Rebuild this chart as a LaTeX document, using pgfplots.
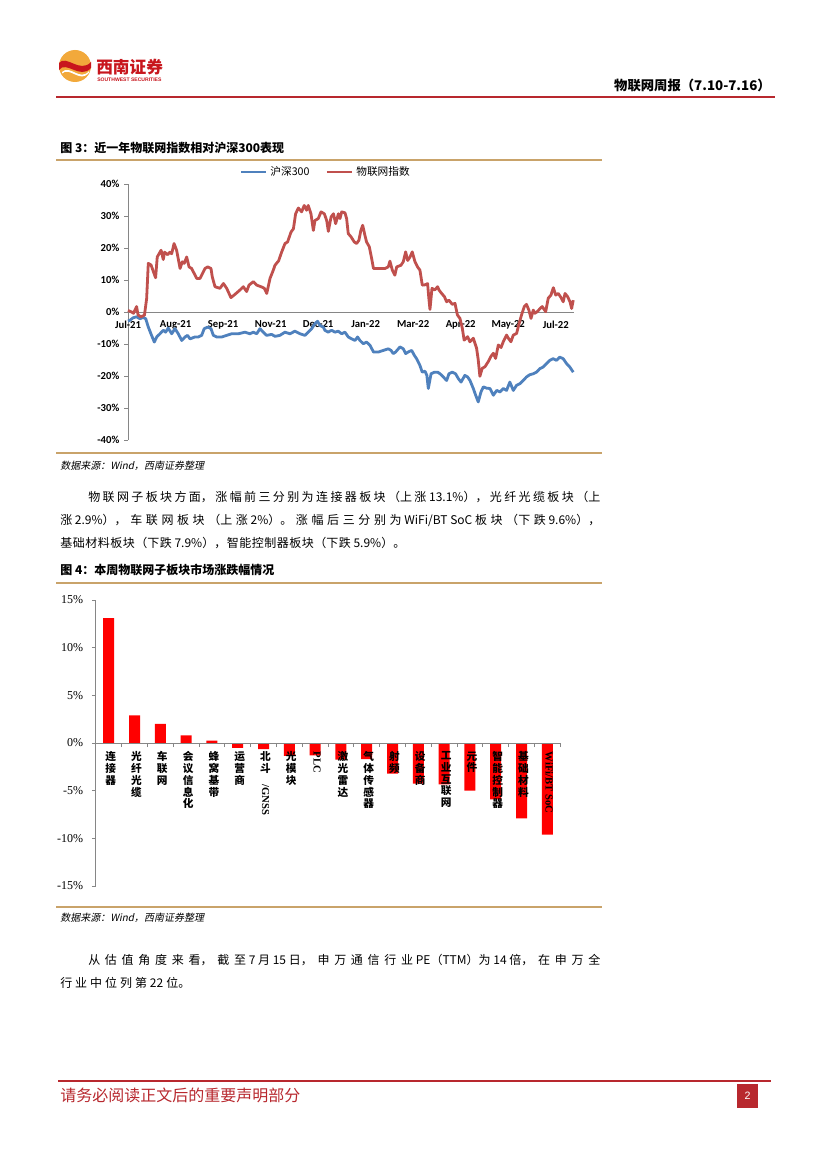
\documentclass[border=0pt]{standalone}
\usepackage{fontspec}
\usepackage{graphicx}
\usepackage{pgfplots}
\pgfplotsset{compat=1.18}
\setmainfont{Liberation Sans}
\newfontfamily\cjk{Noto Sans CJK SC}
\newfontfamily\cjkit[FakeSlant=0.2]{Noto Sans CJK SC}
\newfontfamily\carlito{Carlito}
\newfontfamily\tnr{Liberation Serif}
\XeTeXlinebreaklocale "zh"
\XeTeXlinebreakskip=0pt plus 1fil
\newdimen\px \px=0.75pt
\definecolor{hsblue}{HTML}{4F81BD}
\definecolor{wlred}{HTML}{C0504D}
\definecolor{axgray}{HTML}{868686}
\definecolor{goldline}{HTML}{C9A36A}
\definecolor{hdred}{HTML}{B8282E}
\definecolor{logogold}{HTML}{F2A93B}
\definecolor{logored}{HTML}{C8161D}
\definecolor{barred}{HTML}{FF0000}
\newcommand\bodyfont{\cjk\fontsize{9}{11}\selectfont}
\newcommand\jline[2]{\parbox{#1\px}{\parindent=0pt\parfillskip=0pt\bodyfont #2}}
\begin{document}
\begin{tikzpicture}
\begin{scope}[x=0.75pt,y=-0.75pt]
\path[use as bounding box, fill=white] (0,0) rectangle (827,1170);
% logo
\fill[logogold] (75,66) circle (16);
\fill[logored] (59,63) .. controls (66,54) and (80,74) .. (91,62) -- (91,68) .. controls (80,80) and (66,60) .. (59,70) -- cycle;
\fill[white] (62,72) .. controls (70,64) and (80,82) .. (89,71) -- (89,72.5) .. controls (80,84) and (70,66) .. (62,73.5) -- cycle;
\node[anchor=west, inner sep=0, text=logored] at (96,67) {\cjk\bfseries\fontsize{12.5}{14}\selectfont 西南证券};
\node[anchor=west, inner sep=0, text=logored] at (97,80) {\bfseries\fontsize{3.8}{4}\selectfont SOUTHWEST SECURITIES};
\node[anchor=east, inner sep=0] at (771,85) {\cjk\bfseries\fontsize{10}{12}\selectfont 物联网周报（7.10-7.16）};
\draw[hdred, line width=1.5pt] (56,97) -- (775,97);
% figure 3 title
\node[anchor=west, inner sep=0] at (60,148) {\cjk\bfseries\fontsize{9}{11}\selectfont 图 3：近一年物联网指数相对沪深300表现};
\draw[goldline, line width=1pt] (56,160) -- (602,160);
\draw[goldline, line width=1pt] (56,453) -- (602,453);
\node[anchor=west, inner sep=0] at (60,466) {\cjkit\fontsize{7.5}{9}\selectfont 数据来源：Wind，西南证券整理};
% paragraph 1
\node[anchor=west, inner sep=0] at (88,497) {\jline{512}{物联网子板块方面，涨幅前三分别为连接器板块（上涨 \mbox{13.1\%}），光纤光缆板块（上}};
\node[anchor=west, inner sep=0] at (60,520) {\jline{540}{涨 \mbox{2.9\%}），车联网板块（上涨 \mbox{2\%}）。涨幅后三分别为 \mbox{WiFi/BT SoC} 板块（下跌 \mbox{9.6\%}），}};
\node[anchor=west, inner sep=0] at (60,543) {\jline{345}{基础材料板块（下跌 \mbox{7.9\%}），智能控制器板块（下跌 \mbox{5.9\%}）。}};
% figure 4 title
\node[anchor=west, inner sep=0] at (60,570) {\cjk\bfseries\fontsize{9}{11}\selectfont 图 4：本周物联网子板块市场涨跌幅情况};
\draw[goldline, line width=1pt] (56,583) -- (602,583);
\draw[goldline, line width=1pt] (56,907) -- (602,907);
\node[anchor=west, inner sep=0] at (60,918) {\cjkit\fontsize{7.5}{9}\selectfont 数据来源：Wind，西南证券整理};
% paragraph 2
\node[anchor=west, inner sep=0] at (88,960) {\jline{512}{从估值角度来看，截至 7 月 15 日，申万通信行业 \mbox{PE（TTM）}为 14 倍，在申万全}};
\node[anchor=west, inner sep=0] at (60,983) {\jline{130}{行业中位列第22位。}};
% footer
\draw[hdred, line width=1pt] (58,1081) -- (771,1081);
\node[anchor=west, inner sep=0, text=hdred] at (60,1095) {\cjk\fontsize{12}{14}\selectfont 请务必阅读正文后的重要声明部分};
\fill[hdred] (737,1084) rectangle (758,1108);
\node[text=white, inner sep=0] at (747.5,1096) {\fontsize{8}{9}\selectfont 2};
\end{scope}

% ---------------- chart 1 ----------------
\begin{axis}[
  at={(96pt,-330pt)}, anchor=south west, scale only axis,
  width=334.5pt, height=192pt,
  xmin=0, xmax=244, ymin=-40, ymax=40,
  axis x line=middle, axis y line=left,
  axis line style={axgray, line width=0.6pt, -},
  xtick={0,26,...,234},
  xticklabels={Jul-21,Aug-21,Sep-21,Nov-21,Dec-21,Jan-22,Mar-22,Apr-22,May-22,Jul-22},
  x tick style={draw=none},
  ytick={-40,-30,...,40},
  yticklabels={-40\%,-30\%,-20\%,-10\%,0\%,10\%,20\%,30\%,40\%},
  y tick style={axgray, line width=0.6pt},
  tick align=outside, major tick length=3pt, ytick pos=left,
  ticklabel style={font=\carlito\bfseries\fontsize{8}{9}\selectfont, text=black},
  hide obscured x ticks=false, hide obscured y ticks=false,
  legend style={at={(0.444,1.047)}, anchor=center, draw=none, fill=none,
    legend columns=2, font=\cjk\fontsize{8}{9}\selectfont,
    /tikz/every even column/.append style={column sep=10pt}},
  legend image code/.code={\draw[#1] (0pt,0pt) -- (19pt,0pt);},
  clip=false,
]
\addplot[hsblue, line width=2.1pt, line join=round] coordinates {
(0,-2.8)(1,-2.6)(2.8,-1.8)(4.7,-1.5)(6.5,-2.1)(8.3,-1.7)(9.7,-2.1)(11.1,-4.7)(12.9,-7.3)(14.4,-9.4)
(15.7,-7.8)(17.5,-6.8)(19.3,-5.7)(20.6,-6.3)(22,-5.0)(23.9,-6.8)(25.7,-5.2)(27.5,-6.8)(29.4,-8.9)(31.2,-7.8)
(32.6,-7.3)(33.9,-8.4)(36.6,-7.8)(38.5,-7.8)(40.3,-7.3)(41.7,-5.2)(43.6,-4.7)(45.4,-5.2)(46.7,-7.3)(48.5,-7.8)
(51.3,-7.8)(54,-7.3)(56.7,-6.8)(60.4,-6.8)(64,-6.3)(66.7,-6.8)(68.6,-6.3)(70.4,-6.8)(72.2,-5.2)(74,-6.3)
(75.8,-7.3)(78.6,-7.0)(80.4,-7.6)(83.1,-7.3)(85.9,-6.3)(88.6,-6.8)(91.3,-6.0)(94.1,-6.8)(96.8,-7.3)(98.6,-6.3)
(100.5,-5.2)(102.3,-3.6)(103.7,-2.9)(105,-4.2)(106.8,-4.7)(107.7,-5.7)(109.5,-6.3)(111.4,-5.7)(113.2,-6.3)(115,-6.0)
(116.9,-6.8)(118.7,-6.3)(120.5,-7.8)(122.4,-8.4)(124.2,-8.9)(125.6,-7.8)(126.9,-8.9)(128.7,-9.9)(130.5,-9.4)(132.4,-10.4)
(134.3,-12.5)(137,-12.5)(139.7,-12.0)(142.4,-11.5)(143.9,-12.0)(145.1,-13.0)(146.4,-12.5)(148.8,-10.9)(150.6,-11.5)(151.9,-13.0)
(153.3,-12.5)(155.2,-12.0)(156.6,-13.5)(157.9,-14.6)(159.7,-16.7)(161,-18.8)(162.5,-18.5)(163.5,-19.8)(164.3,-23.9)(165.8,-19.3)
(167.6,-18.8)(169.4,-18.8)(170.7,-19.3)(172.5,-20.3)(174.3,-21.4)(175.6,-19.3)(177.4,-18.8)(179.2,-19.3)(180.7,-20.8)(182.2,-21.9)
(184.3,-19.8)(185.8,-20.3)(187.1,-21.4)(188.9,-23.9)(190.2,-26.0)(191.6,-28.1)(193.1,-25.0)(194.4,-23.4)(196.2,-23.8)(198,-23.9)
(199.9,-26.0)(201.7,-24.5)(203.5,-25.0)(205.3,-23.9)(207.1,-24.5)(208.9,-21.9)(210.8,-24.5)(212.6,-22.9)(214.4,-22.4)(216.2,-21.4)
(218,-20.3)(219.8,-19.6)(221.7,-19.3)(223.5,-18.8)(225.3,-17.7)(227.1,-17.2)(229,-16.1)(230.8,-15.1)(232.6,-14.6)(234.4,-15.1)
(236.2,-14.1)(238.1,-14.6)(239.9,-16.1)(241.7,-17.2)(243.6,-18.8)
};
\addlegendentry{沪深300}
\addplot[wlred, line width=2.1pt, line join=round] coordinates {
(0,0.5)(2,0.0)(3,-0.4)(4.7,1.7)(5.5,-0.9)(7,-1.5)(9,-1.0)(10.2,4.2)(11.1,15.2)(12.6,14.7)
(13.9,12.6)(15.1,10.7)(16,17.2)(18.1,19.3)(19.3,16.4)(20,18.7)(21.7,17.9)(22.9,18.7)(23.9,18.2)(25.2,21.4)
(26.6,19.3)(28.5,13.6)(29.7,15.7)(30.8,15.2)(32.1,17.2)(33.4,14.1)(34.8,13.6)(37.6,10.5)(39.4,10.5)(42.1,13.6)
(43.6,14.1)(45.4,13.6)(46.1,11.0)(47.6,7.9)(50.3,7.4)(52.2,8.9)(54,7.4)(56.3,4.5)(58.5,5.5)(61.3,6.9)
(63.1,7.9)(64.9,6.4)(66.2,8.4)(68.6,9.5)(70.4,8.4)(72.8,7.9)(74.6,7.4)(75.9,5.8)(77.7,10.5)(79.5,13.1)
(80.4,14.6)(82.4,16.0)(84.1,18.8)(85.9,21.4)(87.3,21.9)(89.2,25.0)(90.5,26.0)(91.7,30.7)(93.2,32.5)(95,31.3)
(96.4,33.3)(97.7,31.8)(98.6,33.3)(100.1,30.7)(101.4,25.5)(102.3,28.6)(104.1,29.2)(105.6,31.3)(107.4,30.7)(108.7,28.6)
(109.6,25.2)(111.1,29.7)(112.4,30.7)(113.6,27.6)(115.1,30.7)(116,29.2)(116.9,31.3)(118.7,31.0)(119.6,29.2)(120.5,24.5)
(122,23.5)(123.8,21.9)(125.1,21.4)(126.3,22.4)(127.4,25.5)(128.4,27.1)(129.6,24.0)(130.5,21.9)(132,20.4)(133.3,16.7)
(134.3,13.6)(137,13.6)(140.6,13.6)(142.4,14.1)(143.3,15.9)(144.6,13.1)(146,11.5)(147,14.1)(149.3,14.6)(150.6,15.7)
(151.9,18.8)(153,16.1)(154.3,17.2)(155.5,18.8)(157,15.7)(158.4,14.1)(159.7,13.1)(161,8.4)(162.5,8.5)(163.9,8.9)
(164.6,4.2)(165.2,0.8)(166.3,7.4)(167.8,6.9)(169.4,7.9)(170.1,6.9)(171.6,5.8)(173.1,4.8)(174.3,3.2)(175.6,3.7)
(177.4,2.4)(178.9,2.7)(180.2,-0.9)(181.6,-2.0)(182.9,-5.1)(183.9,-8.8)(185.8,-7.7)(187,-9.3)(188.9,-8.2)(190.7,-11.3)
(191.6,-14.9)(192.5,-20.1)(193.8,-17.6)(195.3,-17.1)(197.1,-15.5)(198.5,-13.9)(199.9,-12.9)(201.1,-14.5)(202.6,-10.3)(204.1,-11.1)
(205.3,-9.3)(207.1,-7.2)(208.1,-8.2)(209.5,-9.3)(210.8,-7.2)(212.6,-6.7)(213.5,-4.6)(215.3,-0.9)(216.8,1.7)(218,2.4)
(219.3,0.6)(220.5,-2.0)(221.7,0.6)(222.6,-0.4)(223.9,0.1)(225.3,1.0)(226.6,1.7)(228.5,0.1)(229.9,4.3)(231.4,5.3)
(232.7,7.6)(234,5.3)(235.4,5.8)(236.9,4.5)(238.1,3.2)(239.1,5.8)(240.5,4.8)(241.8,3.2)(242.7,1.1)(243.6,3.7)
};
\addlegendentry{物联网指数}
\end{axis}

% ---------------- chart 2 ----------------
\begin{axis}[
  at={(71.85pt,-664.5pt)}, anchor=south west, scale only axis,
  width=348.3pt, height=214.5pt,
  xmin=-0.5, xmax=17.5, ymin=-15, ymax=15,
  axis on top,
  axis x line=middle, axis y line=left,
  axis line style={axgray, line width=0.6pt, -},
  ybar, bar width=8.25pt,
  xtick={0,...,17},
  xticklabels={{连\\接\\器},{光\\纤\\光\\缆},{车\\联\\网},{会\\议\\信\\息\\化},{蜂\\窝\\基\\带},{运\\营\\商},{北\\斗\\\rotatebox{-90}{\tnr\bfseries /GNSS}},{光\\模\\块},{\rotatebox{-90}{\tnr\bfseries PLC}},{激\\光\\雷\\达},{气\\体\\传\\感\\器},{射\\频},{设\\备\\商},{工\\业\\互\\联\\网},{元\\件},{智\\能\\控\\制\\器},{基\\础\\材\\料},{\rotatebox{-90}{\tnr\bfseries WiFi/BT SoC}}},
  x tick style={draw=none},
  extra x ticks={-0.5,0.5,...,17.5},
  extra x tick labels={},
  extra x tick style={x tick style={draw=axgray, line width=0.6pt}, major tick length=3pt, tick align=outside},
  ytick={-15,-10,...,15},
  yticklabels={-15\%,-10\%,-5\%,0\%,5\%,10\%,15\%},
  y tick style={axgray, line width=0.6pt},
  tick align=outside, major tick length=3pt, ytick pos=left,
  hide obscured x ticks=false, hide obscured y ticks=false,
  xticklabel style={align=center, anchor=north, font=\cjk\bfseries\fontsize{8}{8.8}\selectfont, text=black, xshift=1.5pt},
  yticklabel style={font=\tnr\fontsize{9}{10}\selectfont, text=black, xshift=-3pt},
  clip=false,
]
\addplot[fill=barred, draw=none] coordinates {
(0,13.1)(1,2.9)(2,2.0)(3,0.8)(4,0.25)(5,-0.5)(6,-0.65)(7,-1.35)(8,-1.3)
(9,-1.75)(10,-1.7)(11,-3.2)(12,-4.25)(13,-4.35)(14,-5.0)(15,-5.9)(16,-7.9)(17,-9.6)
};
\end{axis}
\end{tikzpicture}
\end{document}
